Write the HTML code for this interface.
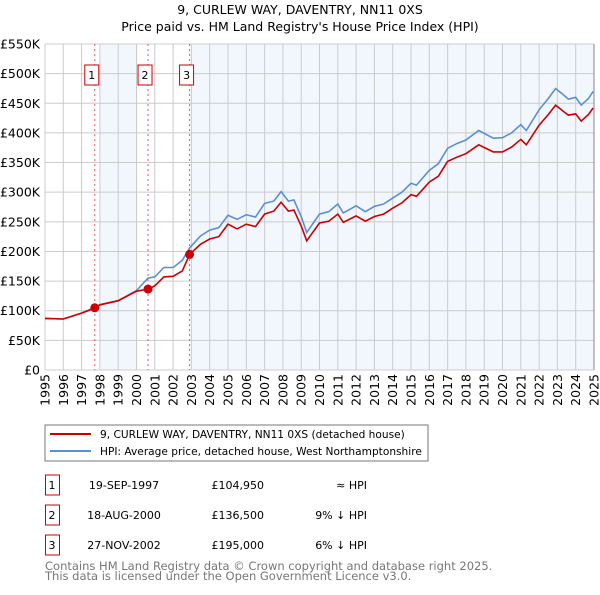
<!DOCTYPE html>
<html><head><meta charset="utf-8"><style>
body{margin:0;background:#fff;font-family:"Liberation Sans","DejaVu Sans",sans-serif;}
svg text{font-family:"DejaVu Sans","Liberation Sans",sans-serif;}
</style></head><body>
<svg id="chart" width="600" height="590" xmlns="http://www.w3.org/2000/svg">
<text x="300" y="14" text-anchor="middle" font-size="12.5" fill="#000">9, CURLEW WAY, DAVENTRY, NN11 0XS</text>
<text x="300" y="31" text-anchor="middle" font-size="12.5" fill="#000">Price paid vs. HM Land Registry's House Price Index (HPI)</text>
<g id="plot"></g>
<rect x="45" y="425" width="383" height="36" fill="#fff" stroke="#777"/>
<line x1="50" y1="434" x2="91" y2="434" stroke="#cc0000" stroke-width="2"/>
<text x="100" y="438" font-size="10.6">9, CURLEW WAY, DAVENTRY, NN11 0XS (detached house)</text>
<line x1="50" y1="451" x2="91" y2="451" stroke="#5b8fd4" stroke-width="2"/>
<text x="100" y="455" font-size="10.6">HPI: Average price, detached house, West Northamptonshire</text>
<g id="table" font-size="11"></g>
<text x="45" y="570" font-size="11.5" fill="#777">Contains HM Land Registry data © Crown copyright and database right 2025.</text>
<text x="45" y="580" font-size="11.5" fill="#777">This data is licensed under the Open Government Licence v3.0.</text>
</svg>
<script>
const hpiYears=[1995,1996,1997,1997.72,1998,1999,2000,2000.63,2001,2001.5,2002,2002.5,2002.9,2003.5,2004,2004.5,2005,2005.5,2006,2006.5,2007,2007.5,2007.9,2008.3,2008.6,2009,2009.3,2010,2010.5,2011,2011.3,2012,2012.5,2013,2013.5,2014,2014.5,2015,2015.3,2016,2016.5,2017,2017.5,2018,2018.7,2019.5,2020,2020.5,2021,2021.3,2022,2022.5,2022.9,2023.3,2023.6,2024,2024.3,2024.7,2024.95];
const hpiValues=[87,86,96,104,110,117,134,155,157,173,173,185,206,226,236,240,261,254,262,258,281,285,301,285,287,259,232,263,267,280,265,277,267,276,280,290,300,315,312,337,348,374,382,388,404,391,392,400,414,404,439,458,475,465,457,460,447,458,470];
const priceValues=[87,86,96,104.95,110,117,133,136.5,142,157,158,167,195,212,221,225,246,238,246,242,263,268,283,268,270,243,218,248,251,263,249,260,251,259,263,273,282,296,293,317,327,352,359,365,380,368,368,376,389,380,413,431,447,437,430,432,420,431,442];
const saleYears=[1997.72,2000.63,2002.9];
const salePrices=[104.95,136.5,195];
const saleLabels=["1","2","3"];
const saleDates=["19-SEP-1997","18-AUG-2000","27-NOV-2002"];
const salePriceText=["£104,950","£136,500","£195,000"];
const saleHpiText=["≈ HPI","9% ↓ HPI","6% ↓ HPI"];
const yTicks=[0,50,100,150,200,250,300,350,400,450,500,550];
const yTickLabels=["£0","£50K","£100K","£150K","£200K","£250K","£300K","£350K","£400K","£450K","£500K","£550K"];
const xTicks=[1995,1996,1997,1998,1999,2000,2001,2002,2003,2004,2005,2006,2007,2008,2009,2010,2011,2012,2013,2014,2015,2016,2017,2018,2019,2020,2021,2022,2023,2024,2025];
const shadeRanges=[[1998,2000.05],[2002.95,2025]];

const NS="http://www.w3.org/2000/svg";
const X0=45,X1=594,Y0=370,Y1=44;
const xs=y=>X0+(y-1995)/30*(X1-X0);
const ys=v=>Y0-v/550*(Y0-Y1);
function mk(tag,attrs,parent){const e=document.createElementNS(NS,tag);for(const k in attrs)e.setAttribute(k,attrs[k]);parent.appendChild(e);return e;}
const plot=document.getElementById('plot');
shadeRanges.forEach(r=>{const e=mk('rect',{x:xs(r[0]),y:Y1,width:xs(r[1])-xs(r[0]),height:Y0-Y1,fill:'#eef3fc',opacity:0.75},plot);

});
yTicks.forEach((t,i)=>{const l=mk('line',{x1:X0,x2:X1,y1:ys(t),y2:ys(t),stroke:'#ccc','stroke-width':1},plot);


const tx=mk('text',{x:40,y:ys(t)+4.5,'text-anchor':'end','font-size':12.5},plot);tx.textContent=yTickLabels[i];

});
xTicks.forEach(t=>{const l=mk('line',{x1:xs(t),x2:xs(t),y1:Y1,y2:Y0,stroke:'#ccc','stroke-width':1},plot);


const tx=mk('text',{x:0,y:0,'text-anchor':'end','font-size':12.5,transform:`translate(${xs(t)+4.5},374) rotate(-90)`},plot);tx.textContent=t;

});
saleYears.forEach((y,i)=>{const l=mk('line',{x1:xs(y),x2:xs(y),y1:Y1,y2:Y0,stroke:'#ee5566','stroke-width':1,'stroke-dasharray':'2,3'},plot);


const b=mk('rect',{x:xs(y)-10,y:65,width:14,height:20,fill:'#fff',stroke:'#cc0000'},plot);


const tx=mk('text',{x:xs(y)-3,y:79,'text-anchor':'middle','font-size':11},plot);tx.textContent=saleLabels[i];

});
function path(vals,color,name){const d=hpiYears.map((y,i)=>(i?'L':'M')+xs(y).toFixed(1)+','+ys(vals[i]).toFixed(1)).join('');
const p=mk('path',{d:d,fill:'none',stroke:color,'stroke-width':1.6},plot);

}
path(hpiValues,'#5b8fd4','hpi-line');
path(priceValues,'#cc0000','price-line');
saleYears.forEach((y,i)=>{const c=mk('circle',{cx:xs(y),cy:ys(salePrices[i]),r:4.5,fill:'#cc0000'},plot);

});
mk('line',{x1:X1,x2:X1,y1:Y1,y2:Y0,stroke:'#888'},plot);
const tb=document.getElementById('table');
saleLabels.forEach((s,i)=>{const cy=485+i*30;
const b=mk('rect',{x:45.5,y:cy-10,width:14,height:20,fill:'#fff',stroke:'#cc0000'},tb);


const cells=[[52,'middle',s,'table-row-number'],[124,'middle',saleDates[i],'table-row-date'],[264,'end',salePriceText[i],'table-row-price'],[367,'end',saleHpiText[i],'table-row-hpi']];
cells.forEach(c=>{const t=mk('text',{x:c[0],y:cy+4,'text-anchor':c[1]},tb);t.textContent=c[2];

});});
</script>
</body></html>
